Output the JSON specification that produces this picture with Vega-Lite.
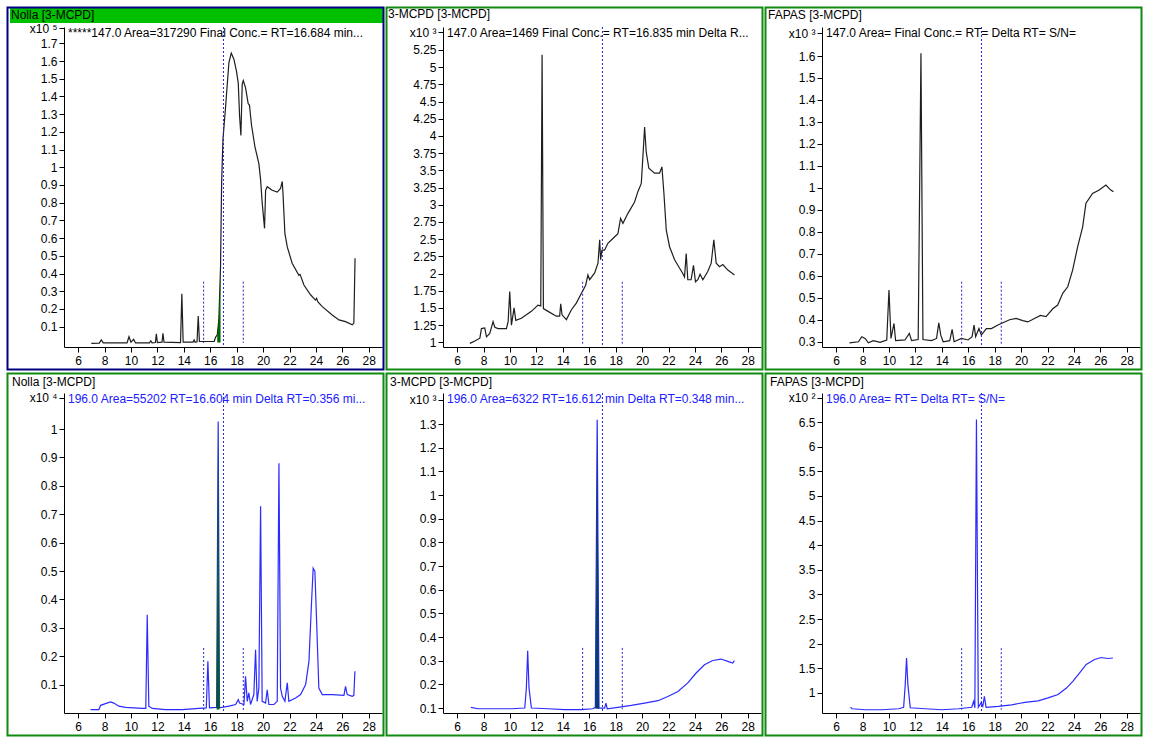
{
"$schema": "https://vega.github.io/schema/vega-lite/v6.json",
"background": "white",
"padding": {"left": 6, "top": 6, "right": 2, "bottom": 0},
"bounds": "flush",
"columns": 3,
"spacing": {"row": 46, "column": 61},
"datasets": {
"p1": [{"rt":7.0,"v":0.006},{"rt":7.6,"v":0.007},{"rt":7.75,"v":0.025},{"rt":7.9,"v":0.008},{"rt":9.7,"v":0.008},{"rt":9.85,"v":0.043},{"rt":10.0,"v":0.012},{"rt":10.2,"v":0.028},{"rt":10.35,"v":0.008},{"rt":11.4,"v":0.008},{"rt":11.5,"v":0.02},{"rt":11.6,"v":0.008},{"rt":11.85,"v":0.01},{"rt":11.92,"v":0.059},{"rt":12.0,"v":0.01},{"rt":12.35,"v":0.012},{"rt":12.42,"v":0.062},{"rt":12.5,"v":0.012},{"rt":13.75,"v":0.01},{"rt":13.85,"v":0.285},{"rt":13.95,"v":0.012},{"rt":14.7,"v":0.012},{"rt":14.78,"v":0.025},{"rt":14.86,"v":0.012},{"rt":15.0,"v":0.014},{"rt":15.09,"v":0.16},{"rt":15.18,"v":0.016},{"rt":16.3,"v":0.016},{"rt":16.4,"v":0.04},{"rt":16.53,"v":0.053},{"rt":16.65,"v":0.138},{"rt":16.78,"v":0.44},{"rt":16.86,"v":0.91},{"rt":16.96,"v":1.155},{"rt":17.16,"v":1.34},{"rt":17.41,"v":1.59},{"rt":17.59,"v":1.645},{"rt":17.79,"v":1.61},{"rt":17.99,"v":1.54},{"rt":18.12,"v":1.475},{"rt":18.22,"v":1.29},{"rt":18.32,"v":1.18},{"rt":18.42,"v":1.47},{"rt":18.5,"v":1.49},{"rt":18.67,"v":1.45},{"rt":18.87,"v":1.36},{"rt":18.97,"v":1.35},{"rt":19.12,"v":1.24},{"rt":19.38,"v":1.117},{"rt":19.68,"v":1.02},{"rt":19.81,"v":0.93},{"rt":19.93,"v":0.8},{"rt":20.11,"v":0.655},{"rt":20.19,"v":0.87},{"rt":20.31,"v":0.89},{"rt":20.69,"v":0.87},{"rt":21.07,"v":0.86},{"rt":21.32,"v":0.88},{"rt":21.45,"v":0.92},{"rt":21.5,"v":0.86},{"rt":21.65,"v":0.627},{"rt":21.83,"v":0.55},{"rt":22.2,"v":0.458},{"rt":22.71,"v":0.39},{"rt":22.8,"v":0.395},{"rt":23.09,"v":0.335},{"rt":23.59,"v":0.28},{"rt":23.97,"v":0.25},{"rt":24.05,"v":0.26},{"rt":24.15,"v":0.24},{"rt":24.48,"v":0.213},{"rt":25.23,"v":0.166},{"rt":25.74,"v":0.138},{"rt":26.24,"v":0.128},{"rt":26.75,"v":0.11},{"rt":26.87,"v":0.12},{"rt":26.96,"v":0.486}],
"p2": [{"rt":6.96,"v":0.985},{"rt":7.34,"v":1.02},{"rt":7.72,"v":1.06},{"rt":7.84,"v":1.2},{"rt":8.09,"v":1.21},{"rt":8.22,"v":1.08},{"rt":8.47,"v":1.13},{"rt":8.72,"v":1.3},{"rt":8.85,"v":1.22},{"rt":9.1,"v":1.2},{"rt":9.73,"v":1.2},{"rt":9.86,"v":1.3},{"rt":9.98,"v":1.74},{"rt":10.11,"v":1.25},{"rt":10.31,"v":1.5},{"rt":10.44,"v":1.32},{"rt":10.86,"v":1.35},{"rt":11.62,"v":1.45},{"rt":12.12,"v":1.54},{"rt":12.33,"v":1.53},{"rt":12.43,"v":5.18},{"rt":12.53,"v":1.49},{"rt":12.88,"v":1.45},{"rt":13.51,"v":1.38},{"rt":13.76,"v":1.38},{"rt":13.84,"v":1.56},{"rt":13.94,"v":1.4},{"rt":14.27,"v":1.33},{"rt":14.64,"v":1.47},{"rt":15.02,"v":1.57},{"rt":15.4,"v":1.71},{"rt":15.73,"v":1.83},{"rt":15.9,"v":1.98},{"rt":16.03,"v":1.91},{"rt":16.41,"v":2.01},{"rt":16.66,"v":2.15},{"rt":16.79,"v":2.49},{"rt":16.86,"v":2.2},{"rt":16.96,"v":2.34},{"rt":17.16,"v":2.34},{"rt":17.41,"v":2.44},{"rt":17.79,"v":2.51},{"rt":18.17,"v":2.58},{"rt":18.37,"v":2.8},{"rt":18.55,"v":2.73},{"rt":18.93,"v":2.875},{"rt":19.43,"v":3.04},{"rt":19.68,"v":3.19},{"rt":19.94,"v":3.31},{"rt":20.06,"v":3.7},{"rt":20.19,"v":4.13},{"rt":20.31,"v":3.77},{"rt":20.51,"v":3.53},{"rt":20.94,"v":3.46},{"rt":21.32,"v":3.46},{"rt":21.5,"v":3.55},{"rt":21.65,"v":3.17},{"rt":21.83,"v":2.63},{"rt":22.08,"v":2.39},{"rt":22.46,"v":2.2},{"rt":22.83,"v":2.08},{"rt":23.08,"v":2.0},{"rt":23.21,"v":1.95},{"rt":23.34,"v":2.29},{"rt":23.46,"v":1.91},{"rt":23.71,"v":1.91},{"rt":23.89,"v":2.12},{"rt":24.04,"v":1.88},{"rt":24.22,"v":1.91},{"rt":24.39,"v":1.99},{"rt":24.6,"v":1.91},{"rt":24.97,"v":2.03},{"rt":25.23,"v":2.15},{"rt":25.43,"v":2.49},{"rt":25.61,"v":2.15},{"rt":25.86,"v":2.1},{"rt":26.11,"v":2.13},{"rt":26.49,"v":2.05},{"rt":26.99,"v":1.98}],
"p3": [{"rt":7.01,"v":0.295},{"rt":7.69,"v":0.3},{"rt":7.94,"v":0.323},{"rt":8.19,"v":0.315},{"rt":8.44,"v":0.295},{"rt":8.82,"v":0.305},{"rt":9.32,"v":0.297},{"rt":9.83,"v":0.308},{"rt":10.0,"v":0.535},{"rt":10.15,"v":0.315},{"rt":10.38,"v":0.383},{"rt":10.5,"v":0.305},{"rt":11.21,"v":0.308},{"rt":11.54,"v":0.338},{"rt":11.71,"v":0.305},{"rt":12.21,"v":0.31},{"rt":12.42,"v":1.612},{"rt":12.57,"v":0.31},{"rt":13.22,"v":0.305},{"rt":13.6,"v":0.315},{"rt":13.77,"v":0.386},{"rt":13.92,"v":0.33},{"rt":14.1,"v":0.3},{"rt":14.6,"v":0.305},{"rt":14.78,"v":0.356},{"rt":14.93,"v":0.3},{"rt":15.48,"v":0.315},{"rt":15.99,"v":0.308},{"rt":16.29,"v":0.323},{"rt":16.44,"v":0.376},{"rt":16.56,"v":0.323},{"rt":16.81,"v":0.36},{"rt":16.99,"v":0.33},{"rt":17.37,"v":0.36},{"rt":17.75,"v":0.36},{"rt":18.25,"v":0.376},{"rt":18.75,"v":0.39},{"rt":19.13,"v":0.4},{"rt":19.63,"v":0.406},{"rt":20.13,"v":0.396},{"rt":20.51,"v":0.39},{"rt":21.01,"v":0.406},{"rt":21.47,"v":0.42},{"rt":21.89,"v":0.414},{"rt":22.4,"v":0.45},{"rt":22.77,"v":0.467},{"rt":23.15,"v":0.52},{"rt":23.53,"v":0.55},{"rt":23.9,"v":0.626},{"rt":24.28,"v":0.732},{"rt":24.66,"v":0.823},{"rt":24.91,"v":0.93},{"rt":25.41,"v":0.975},{"rt":25.91,"v":0.99},{"rt":26.42,"v":1.013},{"rt":26.79,"v":0.99},{"rt":26.99,"v":0.982}],
"p4": [{"rt":6.94,"v":0.012},{"rt":7.57,"v":0.012},{"rt":7.7,"v":0.027},{"rt":8.07,"v":0.033},{"rt":8.45,"v":0.039},{"rt":8.7,"v":0.035},{"rt":9.08,"v":0.024},{"rt":9.59,"v":0.02},{"rt":10.85,"v":0.016},{"rt":11.12,"v":0.016},{"rt":11.23,"v":0.346},{"rt":11.35,"v":0.024},{"rt":11.61,"v":0.016},{"rt":12.62,"v":0.012},{"rt":13.88,"v":0.012},{"rt":15.14,"v":0.016},{"rt":15.7,"v":0.018},{"rt":15.82,"v":0.182},{"rt":15.94,"v":0.018},{"rt":16.48,"v":0.02},{"rt":16.6,"v":1.027},{"rt":16.7,"v":0.018},{"rt":17.41,"v":0.024},{"rt":17.92,"v":0.03},{"rt":18.12,"v":0.047},{"rt":18.22,"v":0.035},{"rt":18.55,"v":0.03},{"rt":18.67,"v":0.129},{"rt":18.8,"v":0.041},{"rt":18.92,"v":0.071},{"rt":19.05,"v":0.03},{"rt":19.3,"v":0.065},{"rt":19.43,"v":0.223},{"rt":19.55,"v":0.041},{"rt":19.68,"v":0.088},{"rt":19.81,"v":0.728},{"rt":19.93,"v":0.041},{"rt":20.19,"v":0.035},{"rt":20.31,"v":0.082},{"rt":20.44,"v":0.03},{"rt":20.82,"v":0.03},{"rt":21.07,"v":0.041},{"rt":21.2,"v":0.88},{"rt":21.32,"v":0.088},{"rt":21.45,"v":0.059},{"rt":21.65,"v":0.041},{"rt":21.83,"v":0.106},{"rt":21.95,"v":0.041},{"rt":22.46,"v":0.053},{"rt":22.84,"v":0.065},{"rt":23.22,"v":0.1},{"rt":23.47,"v":0.182},{"rt":23.67,"v":0.393},{"rt":23.79,"v":0.51},{"rt":23.92,"v":0.499},{"rt":24.05,"v":0.323},{"rt":24.22,"v":0.088},{"rt":24.48,"v":0.065},{"rt":25.23,"v":0.065},{"rt":26.12,"v":0.062},{"rt":26.24,"v":0.094},{"rt":26.37,"v":0.065},{"rt":26.75,"v":0.059},{"rt":26.87,"v":0.062},{"rt":26.95,"v":0.147}],
"p5": [{"rt":7.04,"v":0.103},{"rt":7.59,"v":0.097},{"rt":8.6,"v":0.097},{"rt":10.11,"v":0.097},{"rt":11.12,"v":0.1},{"rt":11.24,"v":0.185},{"rt":11.34,"v":0.342},{"rt":11.44,"v":0.185},{"rt":11.62,"v":0.1},{"rt":12.88,"v":0.097},{"rt":14.14,"v":0.093},{"rt":15.4,"v":0.093},{"rt":16.28,"v":0.097},{"rt":16.46,"v":0.103},{"rt":16.6,"v":1.318},{"rt":16.74,"v":0.1},{"rt":17.16,"v":0.1},{"rt":17.26,"v":0.121},{"rt":17.36,"v":0.097},{"rt":18.17,"v":0.103},{"rt":19.18,"v":0.111},{"rt":20.19,"v":0.121},{"rt":21.2,"v":0.131},{"rt":21.95,"v":0.149},{"rt":22.71,"v":0.17},{"rt":23.46,"v":0.206},{"rt":24.09,"v":0.248},{"rt":24.72,"v":0.283},{"rt":25.35,"v":0.301},{"rt":25.98,"v":0.307},{"rt":26.49,"v":0.297},{"rt":26.86,"v":0.29},{"rt":26.99,"v":0.3}],
"p6": [{"rt":7.09,"v":0.71},{"rt":7.21,"v":0.68},{"rt":8.22,"v":0.66},{"rt":9.47,"v":0.66},{"rt":10.73,"v":0.68},{"rt":11.11,"v":0.71},{"rt":11.23,"v":1.17},{"rt":11.33,"v":1.71},{"rt":11.43,"v":1.17},{"rt":11.61,"v":0.7},{"rt":12.74,"v":0.68},{"rt":14.0,"v":0.66},{"rt":15.26,"v":0.68},{"rt":16.26,"v":0.71},{"rt":16.41,"v":0.83},{"rt":16.5,"v":0.7},{"rt":16.62,"v":6.55},{"rt":16.76,"v":0.71},{"rt":16.97,"v":0.8},{"rt":17.1,"v":0.73},{"rt":17.22,"v":0.93},{"rt":17.35,"v":0.71},{"rt":18.27,"v":0.73},{"rt":19.28,"v":0.76},{"rt":20.28,"v":0.81},{"rt":21.29,"v":0.84},{"rt":22.04,"v":0.9},{"rt":22.8,"v":0.97},{"rt":23.43,"v":1.1},{"rt":23.93,"v":1.24},{"rt":24.43,"v":1.41},{"rt":24.93,"v":1.58},{"rt":25.56,"v":1.68},{"rt":26.07,"v":1.72},{"rt":26.57,"v":1.7},{"rt":26.95,"v":1.71}]
},
"concat": [
{"width": 318, "height": 320,
 "title": {"text": "Nolla [3-MCPD]", "anchor": "start", "frame": "group", "dx": -53, "offset": -20, "baseline": "middle", "fontSize": 12, "fontWeight": "normal", "font": "Liberation Sans", "color": "#000000"},
 "layer": [
  {"data": {"name": "p1"}, "mark": {"type": "line", "color": "#1e1e1e", "strokeWidth": 1.2},
   "encoding": {"x": {"field": "rt", "type": "quantitative", "scale": {"domain": [4.93, 29.0], "nice": false, "zero": false}, "axis": {"values": [6,8,10,12,14,16,18,20,22,24,26,28], "tickCount": 100, "title": null, "grid": false, "tickSize": 5, "labelPadding": 3, "labelFlush": false, "labelOverlap": false, "format": "d"}},
    "y": {"field": "v", "type": "quantitative", "scale": {"domain": [-0.015, 1.792], "nice": false, "zero": false}, "axis": {"values": [0.1,0.2,0.3,0.4,0.5,0.6,0.7,0.8,0.9,1,1.1,1.2,1.3,1.4,1.5,1.6,1.7,1.786], "tickCount": 100, "title": null, "grid": false, "tickSize": 5, "labelPadding": 2, "labelFlush": false, "labelOverlap": false, "labelExpr": "datum.value > 1.75 ? 'x10 ⁵' : '' + datum.value"}}}},
  {"data": {"values": [{}]}, "mark": {"type": "rect", "fill": "#00c000", "clip": false},
   "encoding": {"x": {"datum": 0.843}, "x2": {"datum": 29.076}, "y": {"datum": 1.8146}, "y2": {"datum": 1.899}}},
  {"data": {"values": [{}]}, "mark": {"type": "rect", "filled": false, "stroke": "#000080", "strokeWidth": 2, "clip": false},
   "encoding": {"x": {"datum": 0.654}, "x2": {"datum": 29.114}, "y": {"datum": -0.142}, "y2": {"datum": 1.902}}},
  {"data": {"name": "p1"}, "transform": [{"filter": "datum.rt >= 16.5 && datum.rt <= 16.8"}], "mark": {"type": "area", "color": "#006400"},
   "encoding": {"x": {"field": "rt", "type": "quantitative"}, "y": {"field": "v", "type": "quantitative"}, "y2": {"datum": 0.01}}},
  {"data": {"values": [{"rt": 15.5, "top": 0.354}, {"rt": 18.5, "top": 0.354}]}, "mark": {"type": "rule", "color": "#2424c8", "strokeDash": [2, 2], "strokeWidth": 1},
   "encoding": {"x": {"field": "rt", "type": "quantitative"}, "y": {"field": "top", "type": "quantitative"}, "y2": {"datum": 0.008}}},
  {"data": {"values": [{"rt": 17.0}]}, "mark": {"type": "rule", "color": "#2424c8", "strokeDash": [2, 2], "strokeWidth": 1},
   "encoding": {"x": {"field": "rt", "type": "quantitative"}}},
  {"data": {"values": [{}]}, "mark": {"type": "text", "align": "left", "baseline": "middle", "fontSize": 12, "font": "Liberation Sans", "color": "#000000"},
   "encoding": {"x": {"datum": 5.233}, "y": {"datum": 1.758}, "text": {"value": "*****147.0 Area=317290 Final Conc.= RT=16.684 min..."}}}
 ]},
{"width": 318, "height": 320,
 "title": {"text": "3-MCPD [3-MCPD]", "anchor": "start", "frame": "group", "dx": -55, "offset": -20, "baseline": "middle", "fontSize": 12, "fontWeight": "normal", "font": "Liberation Sans", "color": "#000000"},
 "layer": [
  {"data": {"name": "p2"}, "mark": {"type": "line", "color": "#1e1e1e", "strokeWidth": 1.2},
   "encoding": {"x": {"field": "rt", "type": "quantitative", "scale": {"domain": [4.93, 29.0], "nice": false, "zero": false}, "axis": {"values": [6,8,10,12,14,16,18,20,22,24,26,28], "tickCount": 100, "title": null, "grid": false, "tickSize": 5, "labelPadding": 3, "labelFlush": false, "labelOverlap": false, "format": "d"}},
    "y": {"field": "v", "type": "quantitative", "scale": {"domain": [0.932, 5.584], "nice": false, "zero": false}, "axis": {"values": [1,1.25,1.5,1.75,2,2.25,2.5,2.75,3,3.25,3.5,3.75,4,4.25,4.5,4.75,5,5.25,5.51], "tickCount": 100, "title": null, "grid": false, "tickSize": 5, "labelPadding": 2, "labelFlush": false, "labelOverlap": false, "labelExpr": "datum.value > 5.4 ? 'x10 ³' : '' + datum.value"}}}},
  {"data": {"values": [{}]}, "mark": {"type": "rect", "filled": false, "stroke": "#108a10", "strokeWidth": 2, "clip": false},
   "encoding": {"x": {"datum": 0.654}, "x2": {"datum": 29.114}, "y": {"datum": 0.605}, "y2": {"datum": 5.8675}}},
  {"data": {"values": [{"rt": 15.5, "top": 1.88}, {"rt": 18.5, "top": 1.88}]}, "mark": {"type": "rule", "color": "#2424c8", "strokeDash": [2, 2], "strokeWidth": 1},
   "encoding": {"x": {"field": "rt", "type": "quantitative"}, "y": {"field": "top", "type": "quantitative"}, "y2": {"datum": 0.98}}},
  {"data": {"values": [{"rt": 17.0}]}, "mark": {"type": "rule", "color": "#2424c8", "strokeDash": [2, 2], "strokeWidth": 1},
   "encoding": {"x": {"field": "rt", "type": "quantitative"}}},
  {"data": {"values": [{}]}, "mark": {"type": "text", "align": "left", "baseline": "middle", "fontSize": 12, "font": "Liberation Sans", "color": "#000000"},
   "encoding": {"x": {"datum": 5.233}, "y": {"datum": 5.497}, "text": {"value": "147.0 Area=1469 Final Conc.= RT=16.835 min Delta R..."}}}
 ]},
{"width": 318, "height": 320,
 "title": {"text": "FAPAS [3-MCPD]", "anchor": "start", "frame": "group", "dx": -54, "offset": -20, "baseline": "middle", "fontSize": 12, "fontWeight": "normal", "font": "Liberation Sans", "color": "#000000"},
 "layer": [
  {"data": {"name": "p3"}, "mark": {"type": "line", "color": "#1e1e1e", "strokeWidth": 1.2},
   "encoding": {"x": {"field": "rt", "type": "quantitative", "scale": {"domain": [4.93, 29.0], "nice": false, "zero": false}, "axis": {"values": [6,8,10,12,14,16,18,20,22,24,26,28], "tickCount": 100, "title": null, "grid": false, "tickSize": 5, "labelPadding": 3, "labelFlush": false, "labelOverlap": false, "format": "d"}},
    "y": {"field": "v", "type": "quantitative", "scale": {"domain": [0.276, 1.732], "nice": false, "zero": false}, "axis": {"values": [0.3,0.4,0.5,0.6,0.7,0.8,0.9,1,1.1,1.2,1.3,1.4,1.5,1.6,1.703], "tickCount": 100, "title": null, "grid": false, "tickSize": 5, "labelPadding": 2, "labelFlush": false, "labelOverlap": false, "labelExpr": "datum.value > 1.65 ? 'x10 ³' : '' + datum.value"}}}},
  {"data": {"values": [{}]}, "mark": {"type": "rect", "filled": false, "stroke": "#108a10", "strokeWidth": 2, "clip": false},
   "encoding": {"x": {"datum": 0.654}, "x2": {"datum": 29.114}, "y": {"datum": 0.1736}, "y2": {"datum": 1.8207}}},
  {"data": {"values": [{"rt": 15.5, "top": 0.573}, {"rt": 18.5, "top": 0.573}]}, "mark": {"type": "rule", "color": "#2424c8", "strokeDash": [2, 2], "strokeWidth": 1},
   "encoding": {"x": {"field": "rt", "type": "quantitative"}, "y": {"field": "top", "type": "quantitative"}, "y2": {"datum": 0.29}}},
  {"data": {"values": [{"rt": 17.0}]}, "mark": {"type": "rule", "color": "#2424c8", "strokeDash": [2, 2], "strokeWidth": 1},
   "encoding": {"x": {"field": "rt", "type": "quantitative"}}},
  {"data": {"values": [{}]}, "mark": {"type": "text", "align": "left", "baseline": "middle", "fontSize": 12, "font": "Liberation Sans", "color": "#000000"},
   "encoding": {"x": {"datum": 5.233}, "y": {"datum": 1.7047}, "text": {"value": "147.0 Area= Final Conc.= RT= Delta RT= S/N="}}}
 ]},
{"width": 318, "height": 320,
 "title": {"text": "Nolla [3-MCPD]", "anchor": "start", "frame": "group", "dx": -52, "offset": -22, "baseline": "middle", "fontSize": 12, "fontWeight": "normal", "font": "Liberation Sans", "color": "#000000"},
 "layer": [
  {"data": {"name": "p4"}, "mark": {"type": "line", "color": "#2b2bff", "strokeWidth": 1.2},
   "encoding": {"x": {"field": "rt", "type": "quantitative", "scale": {"domain": [4.93, 29.0], "nice": false, "zero": false}, "axis": {"values": [6,8,10,12,14,16,18,20,22,24,26,28], "tickCount": 100, "title": null, "grid": false, "tickSize": 5, "labelPadding": 3, "labelFlush": false, "labelOverlap": false, "format": "d"}},
    "y": {"field": "v", "type": "quantitative", "scale": {"domain": [0.0, 1.127], "nice": false, "zero": false}, "axis": {"values": [0.1,0.2,0.3,0.4,0.5,0.6,0.7,0.8,0.9,1,1.11], "tickCount": 100, "title": null, "grid": false, "tickSize": 5, "labelPadding": 2, "labelFlush": false, "labelOverlap": false, "labelExpr": "datum.value > 1.05 ? 'x10 ⁴' : '' + datum.value"}}}},
  {"data": {"values": [{}]}, "mark": {"type": "rect", "filled": false, "stroke": "#108a10", "strokeWidth": 2, "clip": false},
   "encoding": {"x": {"datum": 0.654}, "x2": {"datum": 29.114}, "y": {"datum": -0.0792}, "y2": {"datum": 1.1957}}},
  {"data": {"name": "p4"}, "transform": [{"filter": "datum.rt >= 16.48 && datum.rt <= 16.7"}], "mark": {"type": "area", "color": "#006400"},
   "encoding": {"x": {"field": "rt", "type": "quantitative"}, "y": {"field": "v", "type": "quantitative"}, "y2": {"datum": 0.012}}},
  {"data": {"values": [{"rt": 15.5, "top": 0.229}, {"rt": 18.5, "top": 0.229}]}, "mark": {"type": "rule", "color": "#2424c8", "strokeDash": [2, 2], "strokeWidth": 1},
   "encoding": {"x": {"field": "rt", "type": "quantitative"}, "y": {"field": "top", "type": "quantitative"}, "y2": {"datum": 0.01}}},
  {"data": {"values": [{"rt": 17.0}]}, "mark": {"type": "rule", "color": "#2424c8", "strokeDash": [2, 2], "strokeWidth": 1},
   "encoding": {"x": {"field": "rt", "type": "quantitative"}}},
  {"data": {"values": [{}]}, "mark": {"type": "text", "align": "left", "baseline": "middle", "fontSize": 12, "font": "Liberation Sans", "color": "#2020ff"},
   "encoding": {"x": {"datum": 5.233}, "y": {"datum": 1.1059}, "text": {"value": "196.0 Area=55202 RT=16.604 min Delta RT=0.356 mi..."}}}
 ]},
{"width": 318, "height": 320,
 "title": {"text": "3-MCPD [3-MCPD]", "anchor": "start", "frame": "group", "dx": -53, "offset": -22, "baseline": "middle", "fontSize": 12, "fontWeight": "normal", "font": "Liberation Sans", "color": "#000000"},
 "layer": [
  {"data": {"name": "p5"}, "mark": {"type": "line", "color": "#2b2bff", "strokeWidth": 1.2},
   "encoding": {"x": {"field": "rt", "type": "quantitative", "scale": {"domain": [4.93, 29.0], "nice": false, "zero": false}, "axis": {"values": [6,8,10,12,14,16,18,20,22,24,26,28], "tickCount": 100, "title": null, "grid": false, "tickSize": 5, "labelPadding": 3, "labelFlush": false, "labelOverlap": false, "format": "d"}},
    "y": {"field": "v", "type": "quantitative", "scale": {"domain": [0.079, 1.431], "nice": false, "zero": false}, "axis": {"values": [0.1,0.2,0.3,0.4,0.5,0.6,0.7,0.8,0.9,1,1.1,1.2,1.3,1.403], "tickCount": 100, "title": null, "grid": false, "tickSize": 5, "labelPadding": 2, "labelFlush": false, "labelOverlap": false, "labelExpr": "datum.value > 1.35 ? 'x10 ³' : '' + datum.value"}}}},
  {"data": {"values": [{}]}, "mark": {"type": "rect", "filled": false, "stroke": "#108a10", "strokeWidth": 2, "clip": false},
   "encoding": {"x": {"datum": 0.654}, "x2": {"datum": 29.114}, "y": {"datum": -0.0161}, "y2": {"datum": 1.5134}}},
  {"data": {"name": "p5"}, "transform": [{"filter": "datum.rt >= 16.46 && datum.rt <= 16.74"}], "mark": {"type": "area", "color": "#0a3d6b"},
   "encoding": {"x": {"field": "rt", "type": "quantitative"}, "y": {"field": "v", "type": "quantitative"}, "y2": {"datum": 0.097}}},
  {"data": {"values": [{"rt": 15.5, "top": 0.354}, {"rt": 18.5, "top": 0.354}]}, "mark": {"type": "rule", "color": "#2424c8", "strokeDash": [2, 2], "strokeWidth": 1},
   "encoding": {"x": {"field": "rt", "type": "quantitative"}, "y": {"field": "top", "type": "quantitative"}, "y2": {"datum": 0.095}}},
  {"data": {"values": [{"rt": 17.0}]}, "mark": {"type": "rule", "color": "#2424c8", "strokeDash": [2, 2], "strokeWidth": 1},
   "encoding": {"x": {"field": "rt", "type": "quantitative"}}},
  {"data": {"values": [{}]}, "mark": {"type": "text", "align": "left", "baseline": "middle", "fontSize": 12, "font": "Liberation Sans", "color": "#2020ff"},
   "encoding": {"x": {"datum": 5.233}, "y": {"datum": 1.4057}, "text": {"value": "196.0 Area=6322 RT=16.612 min Delta RT=0.348 min..."}}}
 ]},
{"width": 318, "height": 320,
 "title": {"text": "FAPAS [3-MCPD]", "anchor": "start", "frame": "group", "dx": -52, "offset": -22, "baseline": "middle", "fontSize": 12, "fontWeight": "normal", "font": "Liberation Sans", "color": "#000000"},
 "layer": [
  {"data": {"name": "p6"}, "mark": {"type": "line", "color": "#2b2bff", "strokeWidth": 1.2},
   "encoding": {"x": {"field": "rt", "type": "quantitative", "scale": {"domain": [4.93, 29.0], "nice": false, "zero": false}, "axis": {"values": [6,8,10,12,14,16,18,20,22,24,26,28], "tickCount": 100, "title": null, "grid": false, "tickSize": 5, "labelPadding": 3, "labelFlush": false, "labelOverlap": false, "format": "d"}},
    "y": {"field": "v", "type": "quantitative", "scale": {"domain": [0.594, 7.089], "nice": false, "zero": false}, "axis": {"values": [1,1.5,2,2.5,3,3.5,4,4.5,5,5.5,6,6.5,6.99], "tickCount": 100, "title": null, "grid": false, "tickSize": 5, "labelPadding": 2, "labelFlush": false, "labelOverlap": false, "labelExpr": "datum.value > 6.8 ? 'x10 ²' : '' + datum.value"}}}},
  {"data": {"values": [{}]}, "mark": {"type": "rect", "filled": false, "stroke": "#108a10", "strokeWidth": 2, "clip": false},
   "encoding": {"x": {"datum": 0.654}, "x2": {"datum": 29.114}, "y": {"datum": 0.1373}, "y2": {"datum": 7.4848}}},
  {"data": {"values": [{"rt": 15.5, "top": 1.91}, {"rt": 18.5, "top": 1.91}]}, "mark": {"type": "rule", "color": "#2424c8", "strokeDash": [2, 2], "strokeWidth": 1},
   "encoding": {"x": {"field": "rt", "type": "quantitative"}, "y": {"field": "top", "type": "quantitative"}, "y2": {"datum": 0.66}}},
  {"data": {"values": [{"rt": 17.0}]}, "mark": {"type": "rule", "color": "#2424c8", "strokeDash": [2, 2], "strokeWidth": 1},
   "encoding": {"x": {"field": "rt", "type": "quantitative"}}},
  {"data": {"values": [{}]}, "mark": {"type": "text", "align": "left", "baseline": "middle", "fontSize": 12, "font": "Liberation Sans", "color": "#2020ff"},
   "encoding": {"x": {"datum": 5.233}, "y": {"datum": 6.9672}, "text": {"value": "196.0 Area= RT= Delta RT= S/N="}}}
 ]}
],
"config": {
 "view": {"stroke": null},
 "font": "Liberation Sans",
 "axis": {"labelFont": "Liberation Sans", "labelFontSize": 12, "labelColor": "#000000", "domainColor": "#000000", "tickColor": "#000000", "domainWidth": 1, "tickWidth": 1, "labelOverlap": false, "labelSeparation": 0}
}
}
